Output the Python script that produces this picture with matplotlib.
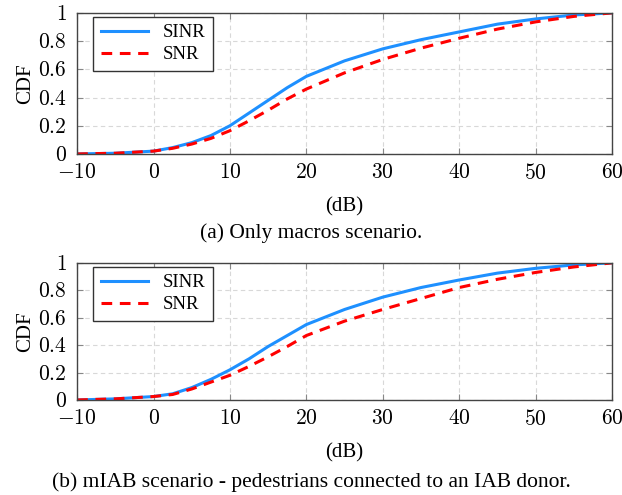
import matplotlib.pyplot as plt

plt.rcParams['font.family'] = ['Liberation Serif', 'DejaVu Serif']
plt.rcParams['mathtext.fontset'] = 'cm'

# x positions (dB)
db = [-10, -5, 0, 2.5, 5, 7.5, 10, 12.5, 15, 17.5, 20, 25, 30, 35, 40, 45, 50, 55, 60]

# (a) only macros
sinr_a = [0.0, 0.005, 0.02, 0.045, 0.08, 0.13, 0.2, 0.29, 0.38, 0.47, 0.55, 0.66, 0.745, 0.81, 0.865, 0.92, 0.957, 0.985, 1.0]
snr_a = [0.0, 0.005, 0.02, 0.04, 0.07, 0.11, 0.165, 0.235, 0.31, 0.39, 0.46, 0.575, 0.67, 0.75, 0.82, 0.885, 0.936, 0.975, 1.0]

# (b) mIAB, pedestrians to IAB donor
sinr_b = [0.0, 0.008, 0.025, 0.045, 0.09, 0.15, 0.22, 0.3, 0.39, 0.47, 0.55, 0.66, 0.75, 0.82, 0.875, 0.925, 0.96, 0.985, 1.0]
snr_b = [0.0, 0.008, 0.025, 0.04, 0.08, 0.13, 0.18, 0.245, 0.315, 0.39, 0.47, 0.575, 0.66, 0.74, 0.82, 0.88, 0.93, 0.97, 1.0]

xticks = [-10, 0, 10, 20, 30, 40, 50, 60]
yticks = [0, 0.2, 0.4, 0.6, 0.8, 1]
xtick_labels = ['$-10$', '$0$', '$10$', '$20$', '$30$', '$40$', '$50$', '$60$']
ytick_labels = ['$0$', '$0.2$', '$0.4$', '$0.6$', '$0.8$', '$1$']

captions = ["(a) Only macros scenario.",
            "(b) mIAB scenario - pedestrians connected to an IAB donor."]

fig = plt.figure(figsize=(6.22, 4.95), dpi=100)
ax_a = fig.add_axes([0.124, 0.689, 0.860, 0.285])
ax_b = fig.add_axes([0.124, 0.192, 0.860, 0.277])

for ax, sinr, snr in [(ax_a, sinr_a, snr_a), (ax_b, sinr_b, snr_b)]:
    ax.plot(db, sinr, color='#1e90ff', lw=2.2, label='SINR')
    ax.plot(db, snr, color='red', lw=2.2, ls=(0, (3.5, 2.5)), label='SNR')
    ax.set_xlim(-10, 60)
    ax.set_ylim(0, 1)
    ax.set_xticks(xticks)
    ax.set_yticks(yticks)
    ax.set_xticklabels(xtick_labels)
    ax.set_yticklabels(ytick_labels)
    ax.grid(True, ls=(0, (4, 3)), color='#d8d8d8', lw=0.8)
    ax.tick_params(labelsize=15.5, direction='in', length=4, color='#888888',
                   top=True, right=True, pad=7.5)
    for sp in ax.spines.values():
        sp.set_color('#444444')
        sp.set_linewidth(1.0)
    ax.set_ylabel('CDF', fontsize=15, labelpad=2)
    ax.set_xlabel('(dB)', fontsize=15, labelpad=9)
    leg = ax.legend(loc='upper left', bbox_to_anchor=(0.03, 0.972), fontsize=13.5,
                    fancybox=False, framealpha=1, edgecolor='#333333',
                    handlelength=2.5, borderpad=0.4, labelspacing=0.25,
                    borderaxespad=0)
    leg.get_frame().set_linewidth(1.0)

fig.text(0.5, 0.529, captions[0], ha='center', va='center', fontsize=15.5)
fig.text(0.5, 0.026, captions[1], ha='center', va='center', fontsize=15.5)

fig.savefig('out.png', dpi=100)
